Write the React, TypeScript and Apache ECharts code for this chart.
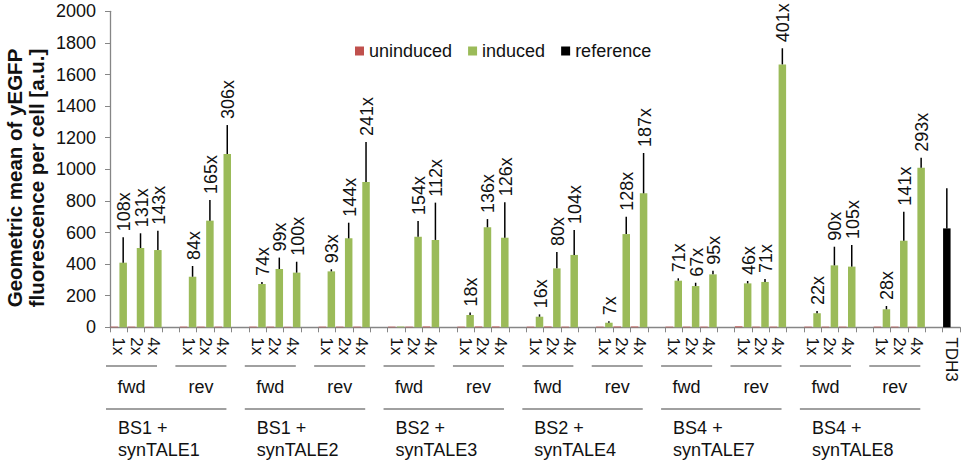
import React, { useEffect, useRef } from "react";
import * as echarts from "echarts";

// ---- data ----
const constructs = [
  "BS1 +\nsynTALE1",
  "BS1 +\nsynTALE2",
  "BS2 +\nsynTALE3",
  "BS2 +\nsynTALE4",
  "BS4 +\nsynTALE7",
  "BS4 +\nsynTALE8",
];
const orientations = ["fwd", "rev"];
const doses = ["1x", "2x", "4x"];
const referenceName = "TDH3";
const yTitle = "Geometric mean of yEGFP\nfluorescence per cell [a.u.]";

// order: construct -> orientation -> dose
const inducedValues = [
  409, 502, 489, 320, 675, 1097,
  274, 369, 346, 354, 563, 920,
  5, 573, 553, 78, 633, 567,
  67, 373, 458, 29, 590, 848,
  295, 261, 335, 278, 287, 1664,
  89, 392, 384, 114, 548, 1010,
];
const inducedErrors = [
  161, 93, 122, 68, 131, 183,
  13, 72, 69, 13, 99, 252,
  0, 100, 236, 15, 52, 224,
  15, 104, 158, 9, 110, 255,
  15, 21, 23, 15, 19, 102,
  14, 118, 137, 21, 184, 63,
];
const uninducedValues = [
  4, 4, 3, 4, 4, 4,
  4, 4, 3, 4, 4, 4,
  4, 4, 5, 4, 5, 5,
  4, 5, 4, 4, 5, 5,
  4, 4, 4, 6, 4, 4,
  4, 4, 4, 4, 4, 3,
];
const foldLabels = [
  "108x", "131x", "143x", "84x", "165x", "306x",
  "74x", "99x", "100x", "93x", "144x", "241x",
  "", "154x", "112x", "18x", "136x", "126x",
  "16x", "80x", "104x", "7x", "128x", "187x",
  "71x", "67x", "95x", "46x", "71x", "401x",
  "22x", "90x", "105x", "28x", "141x", "293x",
];
const referenceValue = 626;
const referenceError = 254;

const FONT = "'Liberation Sans', Arial, Helvetica, sans-serif";

export default function App() {
  const ref = useRef<HTMLDivElement>(null);

  useEffect(() => {
    document.body.style.margin = "0";
    if (!ref.current) return;
    const chart = echarts.init(ref.current, null, { renderer: "svg" });

    // build categories
    const categories: string[] = [];
    const uninduced: (number | null)[] = [];
    const induced: (number | null)[] = [];
    const reference: (number | null)[] = [];
    const errItems: { idx: number; v: number; e: number; label: string; side: number }[] = [];
    let k = 0;
    constructs.forEach(() => {
      orientations.forEach(() => {
        doses.forEach((d) => {
          const idx = categories.length;
          categories.push(d);
          uninduced.push(uninducedValues[k]);
          induced.push(inducedValues[k]);
          reference.push(null);
          errItems.push({ idx, v: inducedValues[k], e: inducedErrors[k], label: foldLabels[k], side: 1 });
          k++;
        });
        categories.push("");
        uninduced.push(null);
        induced.push(null);
        reference.push(null);
      });
    });
    const refIdx = categories.length;
    categories.push(referenceName);
    uninduced.push(null);
    induced.push(null);
    reference.push(referenceValue);
    errItems.push({ idx: refIdx, v: referenceValue, e: referenceError, label: "", side: -1 });

    const BW = 7.5;
    const OFF = 4.5;

    const option: any = {
      animation: false,
      textStyle: { fontFamily: FONT },
      grid: {
        left: 110,
        right: 5,
        top: 11.3,
        bottom: 136.7,
        containLabel: false,
        outerBoundsMode: "none",
      },
      legend: {
        data: ["uninduced", "induced", "reference"],
        left: 350,
        top: 37,
        icon: "rect",
        itemWidth: 9,
        itemHeight: 9,
        itemGap: 16,
        textStyle: { fontSize: 18, color: "#111", fontFamily: FONT },
      },
      xAxis: {
        type: "category",
        data: categories,
        axisLine: { lineStyle: { color: "#868686", width: 1.3 } },
        axisTick: { show: true, interval: 0, length: 5, alignWithLabel: false, lineStyle: { color: "#868686" } },
        axisLabel: { interval: 0, rotate: -90, fontSize: 17, color: "#111", margin: 10, fontFamily: FONT },
        splitLine: { show: false },
      },
      yAxis: {
        type: "value",
        min: 0,
        max: 2000,
        interval: 200,
        axisLine: { show: true, lineStyle: { color: "#868686", width: 1.3 } },
        axisTick: { show: true, length: 5, lineStyle: { color: "#868686" } },
        axisLabel: {
          fontSize: 18,
          color: "#111",
          margin: 14,
          fontFamily: FONT,
          formatter: (v: number) => String(v),
        },
        splitLine: { show: false },
      },
      series: [
        {
          name: "uninduced",
          type: "bar",
          stack: "left",
          data: uninduced,
          barWidth: BW,
          barGap: "20%",
          itemStyle: { color: "#C0504D" },
        },
        {
          name: "induced",
          type: "bar",
          data: induced,
          barWidth: BW,
          barGap: "20%",
          itemStyle: { color: "#9BBB59" },
        },
        {
          name: "reference",
          type: "bar",
          stack: "left",
          data: reference,
          barWidth: BW,
          barGap: "20%",
          itemStyle: { color: "#000000" },
        },
        {
          name: "errors",
          type: "custom",
          clip: false,
          z: 10,
          data: errItems.map((it) => [it.idx, it.v, it.v + it.e]),
          encode: { x: 0, y: [1, 2] },
          renderItem: (params: any, api: any) => {
            const it = errItems[params.dataIndex];
            const base = api.coord([it.idx, it.v]);
            const top = api.coord([it.idx, it.v + it.e]);
            const x = base[0] + it.side * OFF;
            const children: any[] = [
              {
                type: "line",
                shape: { x1: x, y1: base[1], x2: x, y2: top[1] },
                style: { stroke: "#000", lineWidth: 1.5 },
              },
            ];
            if (it.label) {
              children.push({
                type: "text",
                x: x + 1,
                y: top[1] - 6,
                rotation: Math.PI / 2,
                style: {
                  text: it.label,
                  fill: "#111",
                  fontSize: 18,
                  fontFamily: FONT,
                  align: "left",
                  verticalAlign: "middle",
                },
              });
            }
            return { type: "group", children };
          },
        },
      ],
    };

    chart.setOption(option);

    // group annotations below the axis
    const c0 = chart.convertToPixel({ xAxisIndex: 0 }, 0) as number;
    const c1 = chart.convertToPixel({ xAxisIndex: 0 }, 1) as number;
    const cw = c1 - c0;
    const startOf = (i: number) => (chart.convertToPixel({ xAxisIndex: 0 }, i) as number) - cw / 2;
    const endOf = (i: number) => (chart.convertToPixel({ xAxisIndex: 0 }, i) as number) + cw / 2;

    const graphics: any[] = [];
    const lineStyle = { stroke: "#808080", lineWidth: 1.6 };
    constructs.forEach((cname, ci) => {
      const gStart = ci * 8;
      orientations.forEach((o, oi) => {
        const s = gStart + oi * 4;
        const x1 = startOf(s) - 4;
        const x2 = endOf(s + 2) - 5;
        graphics.push({ type: "line", shape: { x1, y1: 366, x2, y2: 366 }, style: lineStyle });
        graphics.push({
          type: "text",
          x: (x1 + x2) / 2,
          y: 387,
          style: { text: o, fontSize: 18, fontFamily: FONT, fill: "#111", align: "center", verticalAlign: "middle" },
        });
      });
      const gx1 = startOf(gStart) - 4;
      const gx2 = endOf(gStart + 6) - 5;
      graphics.push({ type: "line", shape: { x1: gx1, y1: 409, x2: gx2, y2: 409 }, style: lineStyle });
      graphics.push({
        type: "text",
        x: startOf(gStart) + 8,
        y: 417,
        style: {
          text: cname,
          fontSize: 18,
          lineHeight: 22,
          fontFamily: FONT,
          fill: "#111",
          align: "left",
          verticalAlign: "top",
        },
      });
    });
    // y-axis title
    graphics.push({
      type: "text",
      x: 25,
      y: 178,
      rotation: Math.PI / 2,
      style: {
        text: yTitle,
        fontSize: 20.5,
        fontWeight: "bold",
        lineHeight: 22,
        fontFamily: FONT,
        fill: "#111",
        align: "center",
        verticalAlign: "middle",
      },
    });
    chart.setOption({ graphic: graphics });

    return () => chart.dispose();
  }, []);

  return <div ref={ref} style={{ width: 965, height: 464 }} />;
}
